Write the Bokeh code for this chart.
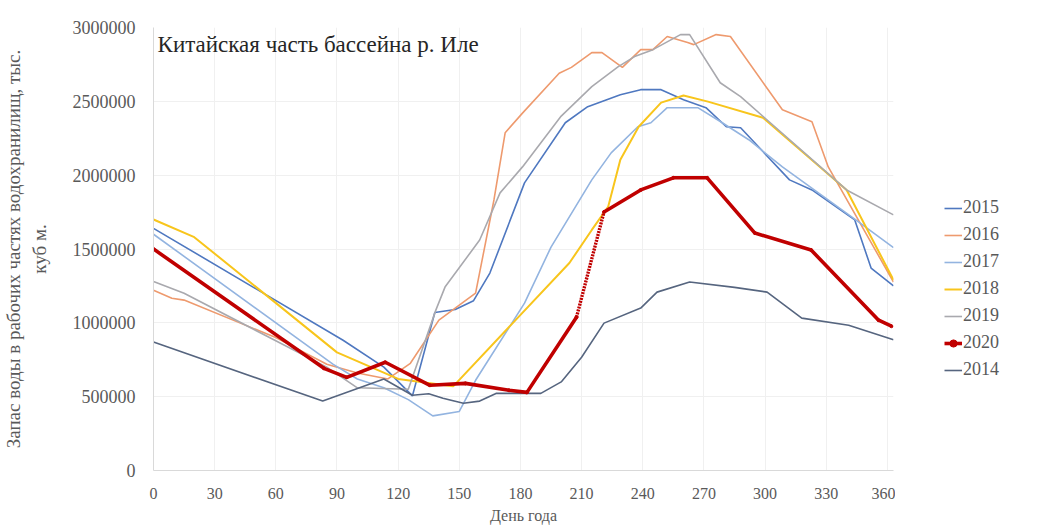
from bokeh.plotting import figure
from bokeh.layouts import row
from bokeh.models import Legend, LegendItem, Label, FixedTicker, NumeralTickFormatter, Range1d
from bokeh.embed import file_html
from bokeh.resources import INLINE

# Reservoir storage in the working volumes, thousand m3, by day of year
days_2014 = [0, 83, 113, 127, 135, 142, 152, 160, 168, 190, 200, 210, 221, 239, 247, 263, 285, 301, 318, 341, 363]
vals_2014 = [870000, 470000, 620000, 510000, 520000, 489000, 455000, 470000, 522000, 522000, 600000, 767000,
             998000, 1100000, 1208000, 1276000, 1240000, 1208000, 1032000, 984000, 885000]

days_2015 = [0, 93, 113, 127, 138, 148, 157, 165, 182, 202, 213, 229, 239, 249, 260, 271, 281, 288, 312, 323,
             344, 352, 363]
vals_2015 = [1640000, 882000, 700000, 505000, 1070000, 1090000, 1150000, 1337000, 1948000, 2355000, 2464000,
             2545000, 2579000, 2579000, 2511000, 2457000, 2328000, 2321000, 1968000, 1900000, 1697000, 1371000,
             1250000]

days_2016 = [0, 9, 15, 60, 85, 100, 115, 126, 140, 158, 167, 172.5, 181, 199, 205, 215, 220, 230, 239, 245, 252,
             262, 265, 276, 283, 308.5, 323, 331, 363]
vals_2016 = [1220000, 1167000, 1154000, 900000, 720000, 660000, 620000, 726000, 1018000, 1201000, 1832000,
             2287000, 2420000, 2690000, 2730000, 2830000, 2830000, 2730000, 2850000, 2850000, 2939000, 2898000,
             2884000, 2952000, 2939000, 2443000, 2362000, 2056000, 1276000]

days_2017 = [0, 88, 100, 113, 125, 137, 150, 158, 182, 195, 215, 224.5, 237.6, 244, 252, 267, 279, 292, 308.5,
             344.5, 363]
vals_2017 = [1600000, 720000, 620000, 560000, 480000, 370000, 400000, 611000, 1133000, 1513000, 1968000, 2151000,
             2328000, 2355000, 2457000, 2457000, 2355000, 2240000, 2056000, 1697000, 1510000]

days_2018 = [0, 20, 90, 120, 147, 204, 215, 223, 229, 238, 249, 260, 272, 299, 340, 363]
vals_2018 = [1700000, 1580000, 800000, 620000, 570000, 1405000, 1629000, 1785000, 2104000, 2328000, 2491000,
             2540000, 2498000, 2389000, 1900000, 1290000]

days_2019 = [0, 15, 85, 100, 125, 138.5, 143, 160, 170, 181, 200, 215, 228, 236, 245, 258.5, 263, 278, 288, 340,
             363]
vals_2019 = [1280000, 1200000, 700000, 560000, 550000, 1086000, 1242000, 1561000, 1880000, 2056000, 2400000,
             2600000, 2735000, 2803000, 2850000, 2952000, 2952000, 2626000, 2532000, 1900000, 1731000]

days_2020 = [0, 83.6, 94.8, 113.7, 135.6, 153, 174.4, 183.2, 207.5, 221, 239, 255, 271.6, 295, 322.6, 355.7, 362]
vals_2020 = [1500000, 692000, 631000, 733000, 577000, 590000, 543000, 529000, 1038000, 1751000, 1900000,
             1982000, 1982000, 1608000, 1493000, 1018000, 977000]
# stretch of the 2020 series drawn as a dotted segment (index range)
gap_2020 = (8, 9)

x_ticks = [0, 30, 60, 90, 120, 150, 180, 210, 240, 270, 300, 330, 360]
y_ticks = [0, 500000, 1000000, 1500000, 2000000, 2500000, 3000000]

FONT = "Liberation Serif"
TXT = "#595959"

series = [
    ("2015", days_2015, vals_2015, "#4f78c0", 1.6),
    ("2016", days_2016, vals_2016, "#ee9a6e", 1.6),
    ("2017", days_2017, vals_2017, "#93b4e0", 1.6),
    ("2018", days_2018, vals_2018, "#f8c51c", 2.0),
    ("2019", days_2019, vals_2019, "#a9a9ae", 1.6),
    ("2014", days_2014, vals_2014, "#56657f", 1.6),
]
red = "#c00000"

p = figure(width=895, height=529, output_backend="svg", toolbar_location=None,
           x_range=Range1d(0, 363), y_range=Range1d(0, 3000000),
           min_border_left=148, min_border_right=2, min_border_top=27, min_border_bottom=59)
p.outline_line_color = None
p.background_fill_color = "white"
p.border_fill_color = "white"

p.xgrid.grid_line_color = "#f0f0f0"
p.ygrid.grid_line_color = "#f0f0f0"

p.xaxis.ticker = FixedTicker(ticks=x_ticks)
p.yaxis.ticker = FixedTicker(ticks=y_ticks)
p.yaxis.formatter = NumeralTickFormatter(format="0")
for ax in (p.xaxis[0], p.yaxis[0]):
    ax.major_tick_line_color = None
    ax.minor_tick_line_color = None
    ax.axis_line_color = "#d9d9d9"
    ax.major_label_text_font = FONT
    ax.major_label_text_color = TXT
    ax.axis_label_text_font = FONT
    ax.axis_label_text_font_style = "normal"
    ax.axis_label_text_color = TXT

p.xaxis.major_label_text_font_size = "16px"
p.yaxis.major_label_text_font_size = "18px"
p.xaxis.axis_label = "День года"
p.xaxis.axis_label_text_font_size = "16px"
p.xaxis.major_label_standoff = 11
p.xaxis.axis_label_standoff = 5
p.yaxis.axis_label = "Запас воды в рабочих частях водохранилищ, тыс.\nкуб м."
p.yaxis.axis_label_text_font_size = "19px"
p.yaxis.major_label_standoff = 12
p.yaxis.axis_label_standoff = 20

for name, d, v, c, w in series:
    p.line(d, v, line_color=c, line_width=w)

a, b = gap_2020
p.line(days_2020[:a + 1], vals_2020[:a + 1], line_color=red, line_width=3.6)
p.line(days_2020[a:b + 1], vals_2020[a:b + 1], line_color=red, line_width=3.4, line_dash="2 1")
p.line(days_2020[b:], vals_2020[b:], line_color=red, line_width=3.6)
p.scatter(days_2020, vals_2020, size=3, color=red)

p.add_layout(Label(x=2, y=2884000, text="Китайская часть бассейна р. Иле", text_font=FONT,
                   text_font_size="23px", text_color="#262626", text_baseline="middle"))

# legend panel to the right of the chart; its ranges keep the key renderers out of view
lg = figure(width=144, height=529, output_backend="svg", toolbar_location=None,
            x_range=Range1d(-2, -1), y_range=Range1d(-2, -1), x_axis_type=None, y_axis_type=None,
            min_border_left=0, min_border_right=0, min_border_top=0, min_border_bottom=0)
lg.outline_line_color = None
lg.xgrid.visible = False
lg.ygrid.visible = False

keys = {}
for name, d, v, c, w in series:
    keys[name] = [lg.line(d, v, line_color=c, line_width=w)]
keys["2020"] = [lg.line(days_2020, vals_2020, line_color=red, line_width=3.6),
                lg.scatter(days_2020, vals_2020, size=5, color=red)]

order = ["2015", "2016", "2017", "2018", "2019", "2020", "2014"]
legend = Legend(items=[LegendItem(label=k, renderers=keys[k]) for k in order], location=(49, 90))
legend.border_line_color = None
legend.background_fill_alpha = 0
legend.label_text_font = FONT
legend.label_text_font_size = "18px"
legend.label_text_color = TXT
legend.glyph_width = 18
legend.glyph_height = 20
legend.label_height = 20
legend.label_standoff = 1
legend.spacing = 6
legend.padding = 0
legend.margin = 0
lg.add_layout(legend)

open("out.html", "w").write(file_html(row(p, lg), INLINE))
